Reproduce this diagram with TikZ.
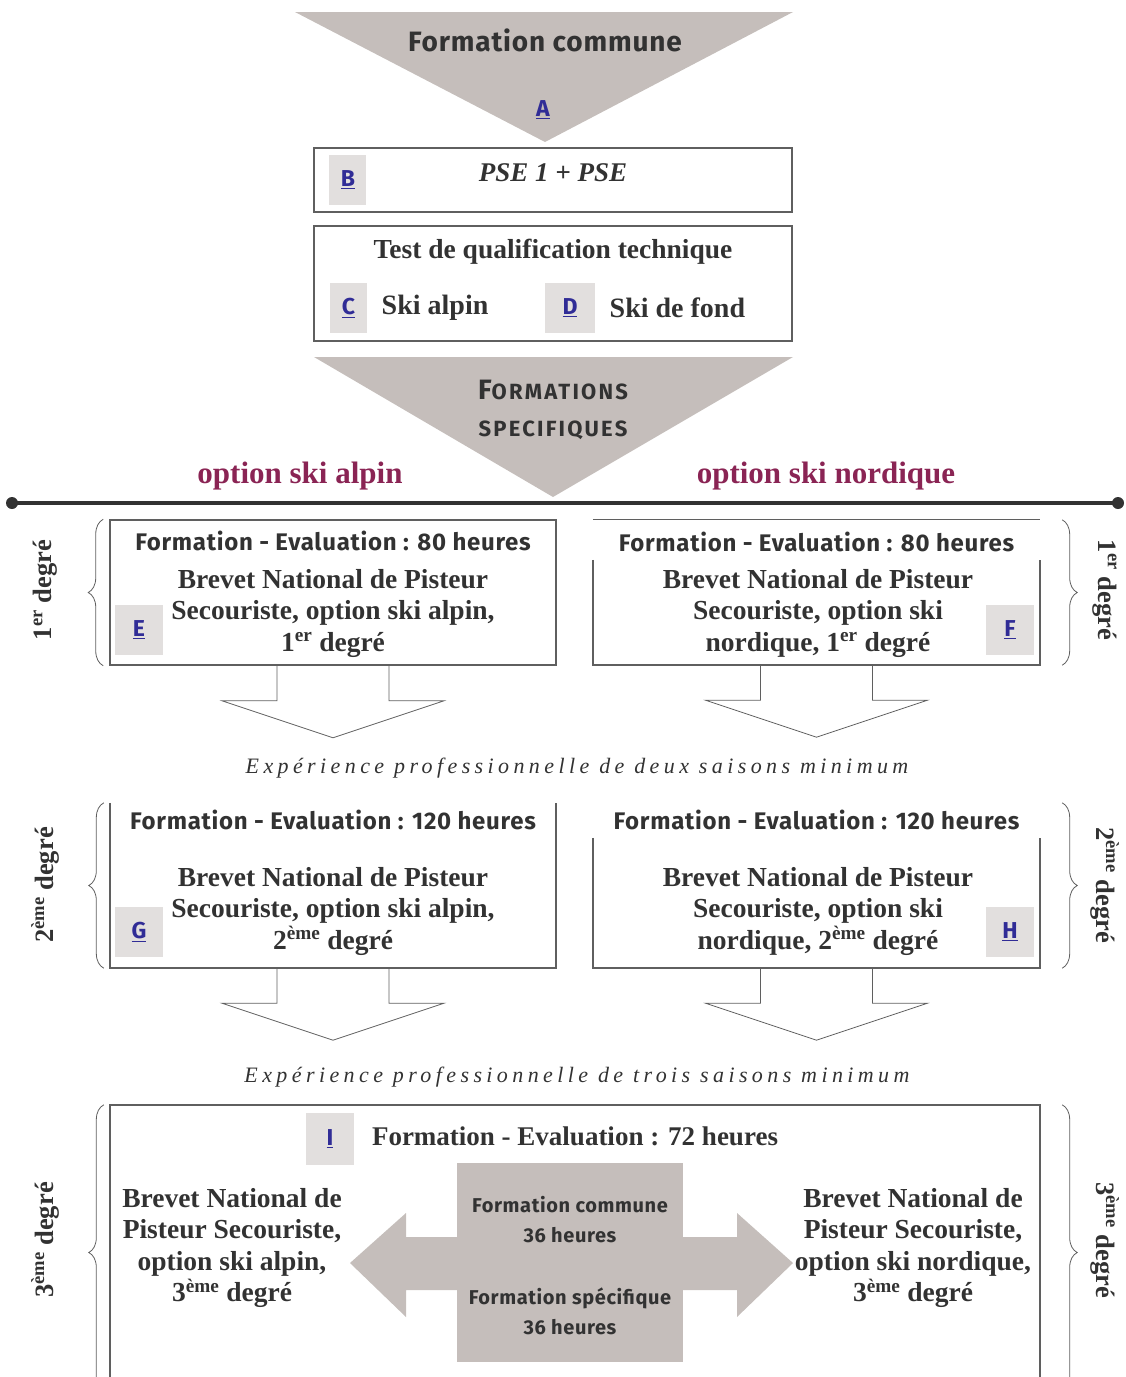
\documentclass[tikz,border=0pt]{standalone}
\usepackage{fontspec}
\setmainfont{Liberation Serif}
\setsansfont{Fira Sans}[LetterSpace=3]
\newfontfamily\spaced[LetterSpace=20]{Liberation Serif}
\newfontfamily\widecaps[LetterSpace=10]{Fira Sans}
\usetikzlibrary{positioning,decorations.pathreplacing}
\definecolor{funnelgray}{RGB}{197,190,187}
\definecolor{tabgray}{RGB}{226,223,222}
\definecolor{tabblue}{RGB}{48,44,150}
\definecolor{optionred}{RGB}{138,36,84}
\definecolor{inkgray}{RGB}{50,50,50}
\definecolor{framegray}{RGB}{95,95,95}
\newcommand{\tabletter}[1]{\underline{#1}}
\begin{document}
\begin{tikzpicture}[x=1pt,y=-1pt,
% The funnels:
funnel/.style={fill=funnelgray, draw=none},
% The frames round each stage:
frame/.style={draw=framegray, line width=1.5pt},
% The outline arrows between stages:
hollow/.style={draw=framegray, line width=0.8pt},
% The letter tabs:
tabbox/.style={
rectangle,
fill=tabgray,
minimum width=48pt, minimum height=50pt,
inner sep=0pt,
text=tabblue,
font=\sffamily\bfseries\fontsize{23}{23}\selectfont
},
% Headings, sans serif
heading/.style={text=inkgray, font=\sffamily\bfseries\fontsize{24}{26}\selectfont},
% Titles, serif
title/.style={text=inkgray, align=center, font=\bfseries\fontsize{27.5}{31.5}\selectfont},
degree/.style={text=inkgray, font=\bfseries\fontsize{26.5}{26.5}\selectfont},
option/.style={text=optionred, font=\bfseries\fontsize{31}{31}\selectfont},
note/.style={text=inkgray, font=\spaced\itshape\fontsize{22}{22}\selectfont},
small/.style={text=inkgray, align=center, font=\sffamily\bfseries\fontsize{20}{30}\selectfont},
brace/.style={decorate, decoration={brace, amplitude=15pt}, draw=framegray, line width=0.8pt}
]
\useasboundingbox (0,0) rectangle (1126,1377);

% common part
\fill[funnel] (295,12) -- (793,12) -- (545,142) -- cycle;
\node[heading, font=\sffamily\bfseries\fontsize{28}{28}\selectfont] (common) at (545,40) {Formation commune};
\node[text=tabblue, font=\sffamily\bfseries\fontsize{23}{23}\selectfont] (tabA) at (543,110) {\tabletter{A}};

\node[frame, minimum width=478pt, minimum height=64pt, inner sep=0pt] (pse) at (553,180) {};
\node[tabbox, minimum width=37pt, right=16pt of pse.west] (tabB) {\tabletter{B}};
\node[title, font=\bfseries\itshape\fontsize{27}{27}\selectfont] (psetext) at (553,173) {PSE 1 + PSE};

\node[frame, minimum width=478pt, minimum height=115pt, inner sep=0pt] (test) at (553,283.5) {};
\node[title] (testtitle) at (553,252) {Test de qualification technique};
\node[tabbox, minimum width=37pt] (tabC) at (348.5,308) {\tabletter{C}};
\node[title, font=\bfseries\fontsize{28}{28}\selectfont, right=11pt of tabC] (alpin) {Ski alpin};
\node[tabbox, minimum width=50pt] (tabD) at (570,308) {\tabletter{D}};
\node[title, font=\bfseries\fontsize{28}{28}\selectfont, right=11pt of tabD] (fond) {Ski de fond};

% specific part
\fill[funnel] (314,357) -- (793,357) -- (553,497) -- cycle;
\node[heading, font=\widecaps\bfseries\fontsize{22}{22}\selectfont] (spec1) at (553,390) {{\fontsize{28}{28}\selectfont F}ORMATIONS};
\node[heading, font=\widecaps\bfseries\fontsize{22}{22}\selectfont] (spec2) at (553,430) {SPECIFIQUES};

\node[option] (optalpin) at (300,476) {option ski alpin};
\node[option] (optnord) at (826,476) {option ski nordique};

\draw[line width=4pt, draw=inkgray] (12,503) coordinate (axisL) -- (1118,503) coordinate (axisR);
\fill[inkgray] (axisL) circle (6pt) (axisR) circle (6pt);

% 1st degree
\node[frame, minimum width=446pt, minimum height=145pt, inner sep=0pt] (alpin1) at (333,592.5) {};
\node[minimum width=447pt, minimum height=145pt, inner sep=0pt] (nord1) at (816.5,592.5) {};
\draw[framegray, line width=0.8pt] (nord1.north west) -- (nord1.north east);
\draw[frame] ([yshift=-40pt]nord1.north west) -- (nord1.south west) -- (nord1.south east) -- ([yshift=-40pt]nord1.north east);
\node[heading] (head1L) at ([yshift=-22pt]alpin1.north) {Formation - Evaluation : 80 heures};
\node[heading] (head1R) at ([yshift=-22pt]nord1.north) {Formation - Evaluation : 80 heures};
\node[title] (bnp1L) at (333,613) {Brevet National de Pisteur\\Secouriste, option ski alpin,\\1\textsuperscript{er} degré};
\node[title] (bnp1R) at (818,613) {Brevet National de Pisteur\\Secouriste, option ski\\nordique, 1\textsuperscript{er} degré};
\node[tabbox] (tabE) at (139,630) {\tabletter{E}};
\node[tabbox] (tabF) at (1010,630) {\tabletter{F}};
\draw[brace] ([xshift=-6pt]alpin1.south west) -- ([xshift=-6pt]alpin1.north west);
\draw[brace] ([xshift=22pt]nord1.north east) -- ([xshift=22pt]nord1.south east);
\node[degree, rotate=90] (deg1L) at (45,590) {1\textsuperscript{er} degré};
\node[degree, rotate=-90] (deg1R) at (1105,590) {1\textsuperscript{er} degré};

\node[note] (exp2) at (577,768) {Expérience professionnelle de deux saisons minimum};

% 2nd degree
\node[minimum width=446pt, minimum height=165pt, inner sep=0pt] (alpin2) at (333,885.5) {};
\node[minimum width=447pt, minimum height=165pt, inner sep=0pt] (nord2) at (816.5,885.5) {};
\draw[frame] (alpin2.north west) -- (alpin2.south west) -- (alpin2.south east) -- (alpin2.north east);
\draw[frame] ([yshift=-35pt]nord2.north west) -- (nord2.south west) -- (nord2.south east) -- ([yshift=-35pt]nord2.north east);
\node[heading] (head2L) at ([yshift=-17pt]alpin2.north) {Formation - Evaluation : 120 heures};
\node[heading] (head2R) at ([yshift=-17pt]nord2.north) {Formation - Evaluation : 120 heures};
\node[title] (bnp2L) at (333,911) {Brevet National de Pisteur\\Secouriste, option ski alpin,\\2\textsuperscript{ème} degré};
\node[title] (bnp2R) at (818,911) {Brevet National de Pisteur\\Secouriste, option ski\\nordique, 2\textsuperscript{ème} degré};
\node[tabbox] (tabG) at (139,932) {\tabletter{G}};
\node[tabbox] (tabH) at (1010,932) {\tabletter{H}};
\draw[brace] ([xshift=-6pt]alpin2.south west) -- ([xshift=-6pt]alpin2.north west);
\draw[brace] ([xshift=22pt]nord2.north east) -- ([xshift=22pt]nord2.south east);
\node[degree, rotate=90] (deg2L) at (45,885) {2\textsuperscript{ème} degré};
\node[degree, rotate=-90] (deg2R) at (1105,885) {2\textsuperscript{ème} degré};

% outline arrows under each stage
\foreach \stage in {alpin1,nord1,alpin2,nord2}
\draw[hollow] ([xshift=-56pt]\stage.south) -- ++(0pt,-35pt) -- ++(-55pt,0pt) -- ([yshift=-72pt]\stage.south)
-- ([xshift=111pt,yshift=-35pt]\stage.south) -- ++(-55pt,0pt) -- ([xshift=56pt]\stage.south);

\node[note] (exp3) at (577,1077) {Expérience professionnelle de trois saisons minimum};

% 3rd degree
\node[minimum width=930pt, minimum height=295pt, inner sep=0pt] (degree3) at (575,1252.5) {};
\draw[frame] (degree3.south west) -- (degree3.north west) -- (degree3.north east) -- (degree3.south east);
\node[tabbox, minimum height=52pt] (tabI) at (330,1139) {\tabletter{I}};
\node[title, font=\bfseries\fontsize{27}{27}\selectfont] (eval3) at (575,1136) {Formation - Evaluation : 72 heures};
\fill[funnelgray] (350,1263) -- (406,1213) -- (406,1237) -- (737,1237) -- (737,1213) -- (793,1263)
-- (737,1317) -- (737,1290) -- (406,1290) -- (406,1317) -- cycle;
\node[fill=funnelgray, minimum width=226pt, minimum height=199pt, inner sep=0pt] (core) at (570,1262.5) {};
\node[small] (commun) at (570,1220) {Formation commune\\36 heures};
\node[small] (specif) at (570,1311) {Formation spécifique\\36 heures};
\node[title] (bnp3L) at (232,1248) {Brevet National de\\Pisteur Secouriste,\\option ski alpin,\\3\textsuperscript{ème} degré};
\node[title] (bnp3R) at (913,1248) {Brevet National de\\Pisteur Secouriste,\\option ski nordique,\\3\textsuperscript{ème} degré};
\draw[brace] ([xshift=-6pt]degree3.south west) -- ([xshift=-6pt]degree3.north west);
\draw[brace] ([xshift=22pt]degree3.north east) -- ([xshift=22pt]degree3.south east);
\node[degree, rotate=90] (deg3L) at (45,1240) {3\textsuperscript{ème} degré};
\node[degree, rotate=-90] (deg3R) at (1105,1240) {3\textsuperscript{ème} degré};
\end{tikzpicture}
\end{document}
